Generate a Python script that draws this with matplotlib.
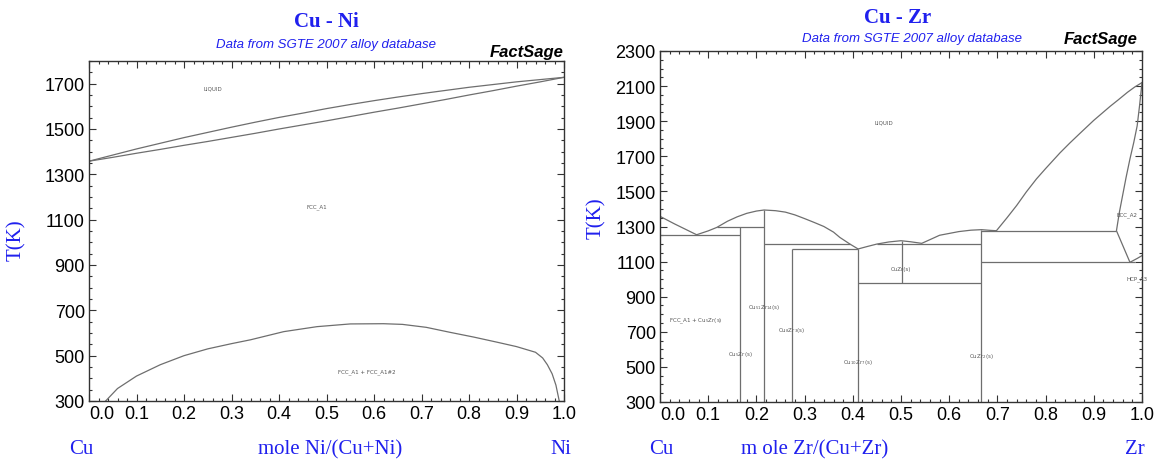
import matplotlib.pyplot as plt
from matplotlib.ticker import AutoMinorLocator

# ---- Cu-Ni data (mole fraction Ni, T in K) ----
ni_liq_x = [0.0, 0.05, 0.1, 0.15, 0.2, 0.25, 0.3, 0.35, 0.4, 0.45, 0.5,
            0.55, 0.6, 0.65, 0.7, 0.75, 0.8, 0.85, 0.9, 0.95, 1.0]
ni_liq_t = [1358, 1385, 1412, 1437, 1462, 1485, 1508, 1530, 1551, 1570, 1590,
            1608, 1625, 1641, 1656, 1670, 1684, 1696, 1708, 1718, 1728]
ni_sol_x = [0.0, 0.05, 0.1, 0.15, 0.2, 0.25, 0.3, 0.35, 0.4, 0.45, 0.5,
            0.55, 0.6, 0.65, 0.7, 0.75, 0.8, 0.85, 0.9, 0.95, 1.0]
ni_sol_t = [1358, 1375, 1393, 1410, 1428, 1445, 1463, 1481, 1500, 1518, 1536,
            1555, 1574, 1592, 1611, 1630, 1650, 1669, 1689, 1708, 1728]
ni_gap_x = [0.035, 0.06, 0.1, 0.15, 0.2, 0.25, 0.3, 0.34, 0.41, 0.48, 0.55, 0.62,
            0.66, 0.71, 0.76, 0.81, 0.86, 0.9, 0.94, 0.955, 0.965, 0.975, 0.983, 0.99]
ni_gap_t = [300, 355, 410, 460, 500, 530, 553, 570, 606, 628, 640, 641,
            638, 625, 603, 582, 559, 540, 515, 490, 460, 420, 370, 300]
ni_labels = ["LIQUID", "FCC_A1", "FCC_A1 + FCC_A1#2"]
ni_label_x = [0.26, 0.48, 0.585]
ni_label_t = [1680, 1160, 430]

# ---- Cu-Zr data (mole fraction Zr, T in K) ----
zr_liq_x = [0.0, 0.03, 0.076, 0.10, 0.118, 0.14, 0.16, 0.18, 0.20, 0.216, 0.24, 0.26,
            0.28, 0.30, 0.32, 0.34, 0.36, 0.373, 0.394, 0.411, 0.43, 0.45, 0.475, 0.50,
            0.52, 0.543, 0.56, 0.58, 0.62, 0.645, 0.667, 0.685, 0.698, 0.72, 0.74,
            0.76, 0.781, 0.80, 0.83, 0.85, 0.871, 0.90, 0.934, 0.95, 0.97, 0.985, 1.0]
zr_liq_t = [1358, 1315, 1253, 1275, 1295, 1330, 1355, 1375, 1388, 1394, 1390, 1382,
            1366, 1345, 1323, 1300, 1268, 1238, 1200, 1172, 1186, 1200, 1212, 1219,
            1213, 1204, 1225, 1250, 1271, 1279, 1282, 1278, 1276, 1350, 1420,
            1497, 1571, 1630, 1720, 1775, 1830, 1905, 1985, 2020, 2065, 2095, 2120]
# horizontal invariant lines: x start, x end, T
zr_h_x0 = [0.0, 0.118, 0.216, 0.273, 0.45, 0.411, 0.667, 0.667]
zr_h_x1 = [0.167, 0.216, 0.394, 0.411, 0.667, 0.667, 0.947, 0.985]
zr_h_t = [1253, 1295, 1200, 1172, 1200, 978, 1276, 1096]
# vertical compound lines: x, T low, T high
zr_v_x = [0.167, 0.216, 0.273, 0.411, 0.502, 0.667]
zr_v_t0 = [300, 300, 300, 300, 978, 300]
zr_v_t1 = [1295, 1394, 1172, 1172, 1219, 1282]
# Zr-rich side (BCC solidus, BCC solvus, HCP/BCC)
zr_bcc_x = [1.0, 0.995, 0.99, 0.983, 0.975, 0.967, 0.96, 0.953, 0.947, 0.975, 0.99, 1.0]
zr_bcc_t = [2120, 1990, 1874, 1780, 1685, 1580, 1480, 1380, 1276, 1096, 1118, 1134]
zr_labels = ["LIQUID", "BCC_A2", "HCP_A3", "CuZr(s)", "FCC_A1 + Cu$_5$Zr(s)",
             "Cu$_{51}$Zr$_{14}$(s)", "Cu$_8$Zr$_3$(s)", "Cu$_5$Zr(s)",
             "Cu$_{10}$Zr$_7$(s)", "CuZr$_2$(s)"]
zr_label_x = [0.465, 0.968, 0.99, 0.50, 0.075, 0.216, 0.273, 0.166, 0.411, 0.667]
zr_label_t = [1895, 1371, 1005, 1062, 767, 843, 712, 577, 530, 564]

blue = '#2020ee'
line_c = '#6e6e6e'
W, H = 1154, 460

fig = plt.figure(figsize=(W / 100, H / 100), dpi=100)
fig.patch.set_facecolor('white')


def px(x, y):
    return x / W, 1 - y / H


def style_axes(ax, ymin, ymax):
    ax.set_xlim(0, 1)
    ax.set_ylim(ymin, ymax)
    ax.set_xticks([i / 10 for i in range(11)])
    ax.set_xticklabels([f"{i / 10:.1f}" for i in range(11)])
    ax.xaxis.set_minor_locator(AutoMinorLocator(5))
    ax.set_yticks(range(300, ymax + 1, 200))
    ax.yaxis.set_minor_locator(AutoMinorLocator(4))
    ax.tick_params(which='both', direction='in', top=True, right=True, colors='#333333',
                   labelcolor='black', labelsize=13, width=0.8)
    ax.tick_params(which='major', length=5, pad=3)
    ax.tick_params(which='minor', length=2.5)
    for s in ax.spines.values():
        s.set_color('#333333')
        s.set_linewidth(1.0)
    for lab in ax.get_xticklabels() + ax.get_yticklabels():
        lab.set_family('Liberation Sans')
    # first x label sits to the right of the corner, as in the original
    ax.get_xticklabels()[0].set_horizontalalignment('left')


# ---- left: Cu-Ni ----
ax1 = fig.add_axes([89 / W, 1 - 402 / H, (564 - 89) / W, (402 - 62) / H])
ax1.plot(ni_liq_x, ni_liq_t, color=line_c, lw=0.9)
ax1.plot(ni_sol_x, ni_sol_t, color=line_c, lw=0.9)
ax1.plot(ni_gap_x, ni_gap_t, color=line_c, lw=0.9)
for s, x, t in zip(ni_labels, ni_label_x, ni_label_t):
    ax1.text(x, t, s, fontsize=4, color='#555555', ha='center', va='center')
style_axes(ax1, 300, 1800)

# ---- right: Cu-Zr ----
ax2 = fig.add_axes([660 / W, 1 - 403 / H, (1142 - 660) / W, (403 - 52) / H])
ax2.plot(zr_liq_x, zr_liq_t, color=line_c, lw=0.9)
ax2.hlines(zr_h_t, zr_h_x0, zr_h_x1, color=line_c, lw=0.9)
ax2.vlines(zr_v_x, zr_v_t0, zr_v_t1, color=line_c, lw=0.9)
ax2.plot(zr_bcc_x, zr_bcc_t, color=line_c, lw=0.9)
for s, x, t in zip(zr_labels, zr_label_x, zr_label_t):
    ax2.text(x, t, s, fontsize=4, color='#555555', ha='center', va='center')
style_axes(ax2, 300, 2300)

# ---- titles and labels ----
serif = 'Liberation Serif'
sans = 'Liberation Sans'
fig.text(*px(326, 22), "Cu - Ni", family=serif, weight='bold', color=blue,
         fontsize=15, ha='center', va='center')
fig.text(*px(326, 45), "Data from SGTE 2007 alloy database", family=sans, style='italic',
         color=blue, fontsize=9.5, ha='center', va='center')
fig.text(*px(564, 52), "FactSage", family=sans, style='italic', weight='bold',
         color='black', fontsize=12, ha='right', va='center')
fig.text(*px(898, 18), "Cu - Zr", family=serif, weight='bold', color=blue,
         fontsize=15, ha='center', va='center')
fig.text(*px(912, 39), "Data from SGTE 2007 alloy database", family=sans, style='italic',
         color=blue, fontsize=9.5, ha='center', va='center')
fig.text(*px(1138, 40), "FactSage", family=sans, style='italic', weight='bold',
         color='black', fontsize=12, ha='right', va='center')

fig.text(*px(16, 240), "T(K)", family=serif, color=blue, fontsize=15,
         rotation=90, ha='center', va='center')
fig.text(*px(596, 218), "T(K)", family=serif, color=blue, fontsize=15,
         rotation=90, ha='center', va='center')

for x, s in [(81, "Cu"), (330, "mole Ni/(Cu+Ni)"), (561, "Ni"),
             (661, "Cu"), (815, "m ole Zr/(Cu+Zr)"), (1135, "Zr")]:
    fig.text(*px(x, 450), s, family=serif, color=blue, fontsize=15,
             ha='center', va='center')

plt.savefig("out.png", dpi=100, facecolor=fig.get_facecolor())
